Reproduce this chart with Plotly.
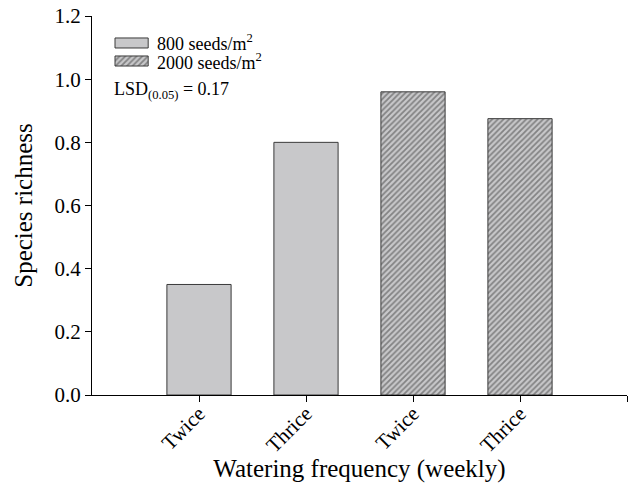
import plotly.graph_objects as go

low_density_pos = [0, 1]
low_density_vals = [0.35, 0.80]
high_density_pos = [2, 3]
high_density_vals = [0.96, 0.875]
tick_vals = [0, 1, 2, 3, 4]
tick_labels = ["Twice", "Thrice", "Twice", "Thrice", ""]
y_ticks = [0.0, 0.2, 0.4, 0.6, 0.8, 1.0, 1.2]
legend_labels = ["800 seeds/m<sup>2</sup>", "2000 seeds/m<sup>2</sup>"]

font = "Liberation Serif"
FILL = "#c8c8ca"
EDGE = "#3a3a3a"
hatch = dict(shape="/", fgcolor="#3c3c3c", bgcolor=FILL, size=4, solidity=0.45)

fig = go.Figure()
fig.add_trace(go.Bar(
    x=low_density_pos, y=low_density_vals, width=0.6, name=legend_labels[0], showlegend=False,
    marker=dict(color=FILL, line=dict(color=EDGE, width=1)),
))
fig.add_trace(go.Bar(
    x=high_density_pos, y=high_density_vals, width=0.6, name=legend_labels[1], showlegend=False,
    marker=dict(color=FILL, line=dict(color=EDGE, width=1), pattern=hatch),
))

# legend swatches on an overlay axis spanning the plot area (paper-like 0..1 units)
sw_x0, sw_x1 = 0.043, 0.105
rows = [(0.9156, 0.942), (0.868, 0.8945)]
for i, (y0, y1) in enumerate(rows):
    kw = dict(fillpattern=hatch) if i == 1 else {}
    fig.add_trace(go.Scatter(
        x=[sw_x0, sw_x1, sw_x1, sw_x0, sw_x0], y=[y0, y0, y1, y1, y0],
        xaxis="x2", yaxis="y2", mode="lines", fill="toself", fillcolor=FILL,
        line=dict(color=EDGE, width=1), showlegend=False, hoverinfo="skip", **kw))
    fig.add_annotation(x=0.117, y=(y0 + y1) / 2, xref="paper", yref="paper",
                       xanchor="left", yanchor="middle", text=legend_labels[i], showarrow=False,
                       font=dict(family=font, size=18, color="black"))

fig.add_annotation(x=0.038, y=0.84, xref="paper", yref="paper", xanchor="left", yanchor="top",
                   text="LSD<sub>(0.05)</sub> = 0.17", showarrow=False,
                   font=dict(family=font, size=18, color="black"))

fig.update_layout(
    width=633, height=483,
    margin=dict(l=92, r=6, t=16, b=88),
    paper_bgcolor="white", plot_bgcolor="white",
    font=dict(family=font, color="black"),
    showlegend=False,
    xaxis=dict(range=[-1, 4], tickvals=tick_vals, ticktext=tick_labels, tickangle=-45,
               showline=True, linecolor="black", linewidth=1, ticks="outside", ticklen=6,
               tickcolor="black", showgrid=False, zeroline=False, automargin=False,
               ticklabelstandoff=-9,
               tickfont=dict(family=font, size=21, color="black"),
               title=dict(text="Watering frequency (weekly)", font=dict(family=font, size=25, color="black"), standoff=12)),
    yaxis=dict(range=[0, 1.2001], tickvals=y_ticks, tickformat=".1f",
               showline=True, linecolor="black", linewidth=1, ticks="outside", ticklen=6,
               tickcolor="black", showgrid=False, zeroline=False, automargin=False,
               ticklabeloverflow="allow",
               tickfont=dict(family=font, size=21, color="black"),
               title=dict(text="Species richness", font=dict(family=font, size=25, color="black"), standoff=14)),
    xaxis2=dict(overlaying="x", range=[0, 1], visible=False, fixedrange=True),
    yaxis2=dict(overlaying="y", range=[0, 1], visible=False, fixedrange=True),
)

fig.write_html("out.html", config={"displayModeBar": False},
               post_script="document.body.style.margin='0';")
